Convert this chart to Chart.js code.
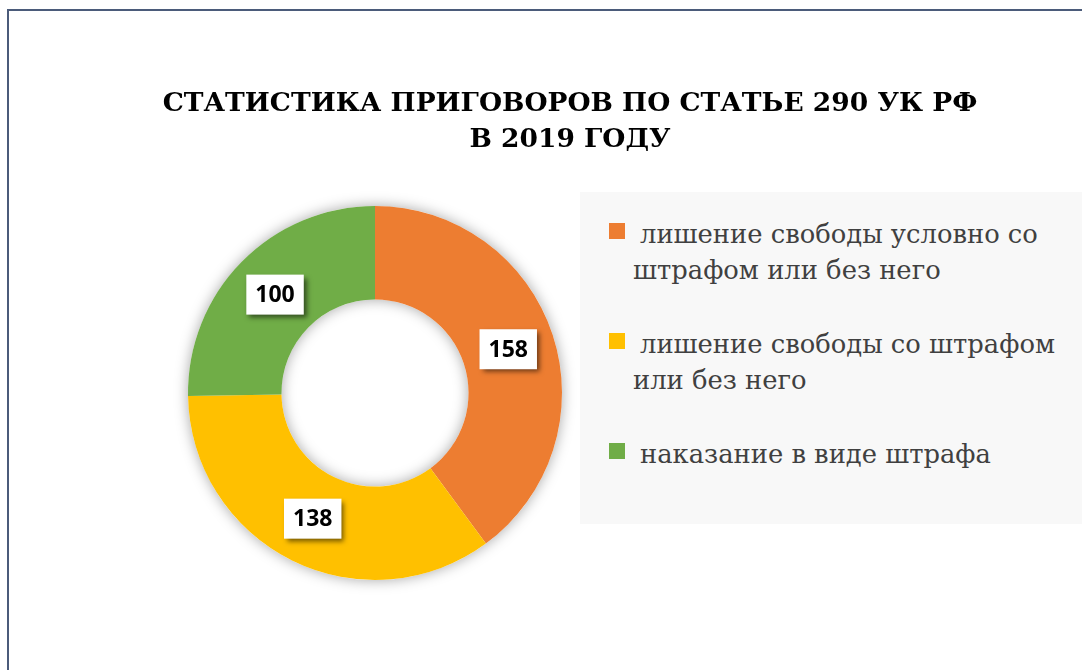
<!DOCTYPE html>
<html>
<head>
<meta charset="utf-8">
<script src="https://cdn.jsdelivr.net/npm/chart.js@4/dist/chart.umd.min.js"></script>
<style>
  body { margin:0; background:#fff; }
  .wrap { position:relative; width:1082px; height:670px; overflow:hidden; }
  .frame { position:absolute; left:7px; top:9px; right:-10px; bottom:-10px;
           border-top:2px solid #4b5b7a; border-left:2px solid #4b5b7a; }
  canvas { position:absolute; left:0; top:0; }
  .titulo { position:absolute; left:60px; width:1020px; top:84px; text-align:center;
            font-family:"DejaVu Serif", serif; font-weight:bold; font-size:26.5px;
            line-height:36px; color:#000; }
  .leyenda { position:absolute; left:580px; top:192px; width:502px; height:332px;
             background:#f8f8f8; box-sizing:border-box; padding-top:24px; }
  .item { position:relative; padding-left:53px; width:440px; margin-bottom:38px;
          font-family:"DejaVu Serif", serif; font-size:25.8px; line-height:36px; color:#404040; }
  .item span.txt { display:block; text-indent:7px; }
  .cuadro { position:absolute; left:29px; top:7px; width:16px; height:16px; }
</style>
</head>
<body>
<div class="wrap">
  <div class="frame"></div>
  <canvas id="grafica" width="1082" height="670"></canvas>
  <div class="titulo">СТАТИСТИКА ПРИГОВОРОВ ПО СТАТЬЕ 290 УК РФ<br>В 2019 ГОДУ</div>
  <div class="leyenda" id="leyenda"></div>
</div>
<script>
const categorias = [
  'лишение свободы условно со штрафом или без него',
  'лишение свободы со штрафом или без него',
  'наказание в виде штрафа'
];
const valores = [158, 138, 100];
const colores = ['#ED7D31', '#FFC000', '#70AD47'];

// sombra suave del anillo (como en Excel)
const sombraAnillo = {
  id: 'sombraAnillo',
  beforeDatasetsDraw(chart) {
    const arc = chart.getDatasetMeta(0).data[0];
    if (!arc) return;
    const ctx = chart.ctx;
    ctx.save();
    ctx.shadowColor = 'rgba(0,0,0,0.35)';
    ctx.shadowBlur = 14;
    ctx.beginPath();
    ctx.arc(arc.x, arc.y, arc.outerRadius, 0, Math.PI * 2);
    ctx.arc(arc.x, arc.y, arc.innerRadius, Math.PI * 2, 0, true);
    ctx.closePath();
    ctx.fillStyle = '#ffffff';
    ctx.fill('evenodd');
    ctx.restore();
  }
};

// etiquetas con caja blanca
const etiquetas = {
  id: 'etiquetas',
  afterDatasetsDraw(chart) {
    const ctx = chart.ctx;
    const meta = chart.getDatasetMeta(0);
    ctx.save();
    ctx.font = 'bold 23px "Open Sans", sans-serif';
    ctx.textAlign = 'center';
    ctx.textBaseline = 'middle';
    meta.data.forEach((arc, i) => {
      const p = arc.tooltipPosition();
      const txt = String(valores[i]);
      const w = ctx.measureText(txt).width + 18;
      const h = 40;
      ctx.save();
      ctx.shadowColor = 'rgba(0,0,0,0.55)';
      ctx.shadowBlur = 5;
      ctx.shadowOffsetX = 3;
      ctx.shadowOffsetY = 3;
      ctx.fillStyle = '#ffffff';
      ctx.fillRect(p.x - w / 2, p.y - h / 2, w, h);
      ctx.restore();
      ctx.fillStyle = '#000000';
      ctx.fillText(txt, p.x, p.y + 1);
    });
    ctx.restore();
  }
};

new Chart(document.getElementById('grafica').getContext('2d'), {
  type: 'doughnut',
  data: {
    labels: categorias,
    datasets: [{
      data: valores,
      backgroundColor: colores,
      borderWidth: 0,
      hoverOffset: 0
    }]
  },
  options: {
    responsive: false,
    animation: false,
    cutout: '50%',
    layout: { padding: { left: 188, right: 520, top: 206, bottom: 90 } },
    plugins: {
      legend: { display: false },
      title: { display: false },
      tooltip: { enabled: false }
    }
  },
  plugins: [sombraAnillo, etiquetas]
});

// leyenda en html
const leyenda = document.getElementById('leyenda');
categorias.forEach((c, i) => {
  const d = document.createElement('div');
  d.className = 'item';
  d.innerHTML = '<div class="cuadro" style="background:' + colores[i] + '"></div><span class="txt">' + c + '</span>';
  leyenda.appendChild(d);
});
</script>
</body>
</html>
